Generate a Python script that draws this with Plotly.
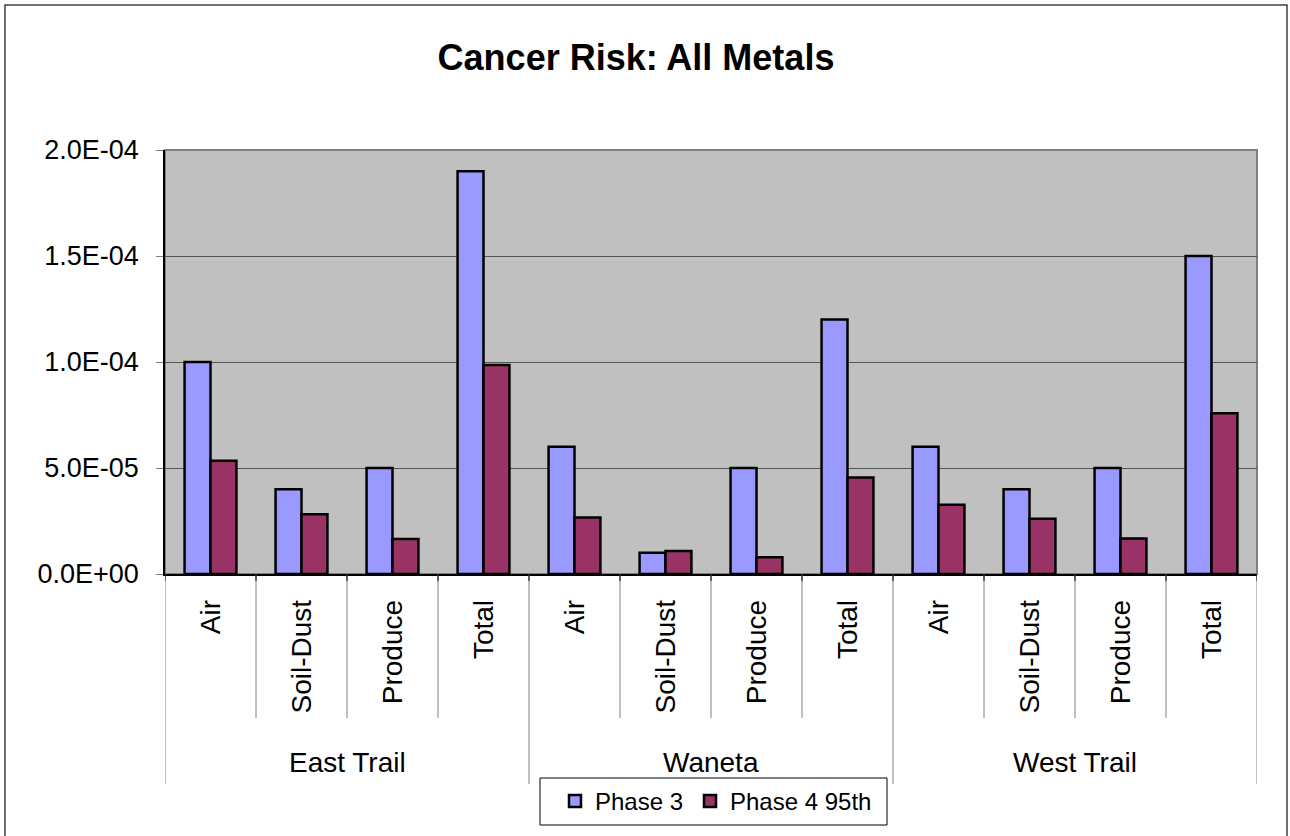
import plotly.graph_objects as go

# ---- data ----
groups = ["East Trail", "Waneta", "West Trail"]
sources = ["Air", "Soil-Dust", "Produce", "Total"]
phase3 = [1.0e-4, 4.0e-5, 5.0e-5, 1.9e-4,
          6.0e-5, 1.0e-5, 5.0e-5, 1.2e-4,
          6.0e-5, 4.0e-5, 5.0e-5, 1.5e-4]
phase4_95th = [5.34e-5, 2.82e-5, 1.65e-5, 9.86e-5,
               2.67e-5, 1.09e-5, 7.9e-6, 4.55e-5,
               3.27e-5, 2.61e-5, 1.67e-5, 7.58e-5]
ytick_vals = [0, 5e-5, 1e-4, 1.5e-4, 2e-4]
ytick_text = ["0.0E+00", "5.0E-05", "1.0E-04", "1.5E-04", "2.0E-04"]

keys = [f"{g}|{s}" for g in groups for s in sources]
labels = [s for g in groups for s in sources]

FONT = "Arial, Liberation Sans, sans-serif"
W, H = 1290, 836
L, R, T, B = 165, 33, 150, 262
PH = H - T - B


def py(pix):
    """pixel y (from top) -> paper y"""
    return (H - B - pix) / PH


def px(pix):
    return (pix - L) / (W - L - R)


fig = go.Figure()
fig.add_trace(go.Bar(x=keys, y=phase3, name="Phase 3", legend="legend", showlegend=True,
                     marker=dict(color="#9999FF", line=dict(color="black", width=2.5))))
fig.add_trace(go.Bar(x=keys, y=phase4_95th, name="Phase 4 95th", legend="legend2", showlegend=True,
                     marker=dict(color="#993366", line=dict(color="black", width=2.5))))

shapes = []
# plot-area frame (top/right grey)
shapes.append(dict(type="rect", xref="paper", yref="paper", x0=0, x1=1, y0=0, y1=1,
                   line=dict(color="#808080", width=2), layer="below"))
# category dividers
n = len(keys)
for i in range(n + 1):
    long = (i % len(sources) == 0)
    shapes.append(dict(type="line", xref="x", yref="paper",
                       x0=i - 0.5, x1=i - 0.5, y0=0, y1=py(784 if long else 718),
                       line=dict(color="#808080", width=1)))
    shapes.append(dict(type="line", xref="x", yref="paper",
                       x0=i - 0.5, x1=i - 0.5, y0=0, y1=py(581),
                       line=dict(color="black", width=1)))
# outer chart border
shapes.append(dict(type="rect", xref="paper", yref="paper",
                   x0=px(5), x1=px(1287), y0=py(5), y1=py(900),
                   line=dict(color="#404040", width=1.5)))
# legend frame
shapes.append(dict(type="rect", xref="paper", yref="paper",
                   x0=px(540), x1=px(887), y0=py(778), y1=py(825),
                   line=dict(color="black", width=1), fillcolor="white", layer="below"))

annotations = []
for gi, g in enumerate(groups):
    annotations.append(dict(x=gi * len(sources) + (len(sources) - 1) / 2, xref="x",
                            y=py(762), yref="paper", text=g, showarrow=False,
                            xanchor="center", yanchor="middle",
                            font=dict(family=FONT, size=28, color="black")))

legend_common = dict(orientation="h", y=py(801.5), xanchor="left", yanchor="middle",
                     borderwidth=0, bgcolor="rgba(0,0,0,0)",
                     font=dict(family=FONT, size=24, color="black"), itemwidth=30)

fig.update_layout(
    width=W, height=H,
    margin=dict(l=L, r=R, t=T, b=B),
    paper_bgcolor="white", plot_bgcolor="#C0C0C0",
    showlegend=True,
    barmode="group", bargap=0.43, bargroupgap=0,
    title=dict(text="<b>Cancer Risk: All Metals</b>", x=(636) / W, xanchor="center",
               y=1 - 57 / H, yanchor="middle", yref="container",
               font=dict(family=FONT, size=36, color="black")),
    font=dict(family=FONT, size=26, color="black"),
    xaxis=dict(type="category", range=[-0.5, n - 0.5], tickvals=keys, ticktext=labels,
               tickangle=-90, ticks="", showline=True, linecolor="black", linewidth=1.5,
               tickfont=dict(family=FONT, size=28, color="black"), ticklabelstandoff=13,
               showgrid=False, zeroline=False, fixedrange=True),
    yaxis=dict(range=[0, 2e-4], tickvals=ytick_vals, ticktext=ytick_text,
               ticks="outside", ticklen=7, tickcolor="#808080", tickwidth=1,
               showline=True, linecolor="black", linewidth=1.5,
               showgrid=True, gridcolor="#555555", gridwidth=1, zeroline=False,
               tickfont=dict(family=FONT, size=27, color="black"), ticklabelstandoff=12),
    legend=dict(x=px(555), **legend_common),
    legend2=dict(x=px(690), **legend_common),
    shapes=shapes, annotations=annotations,
)

fig.write_html("out.html")
